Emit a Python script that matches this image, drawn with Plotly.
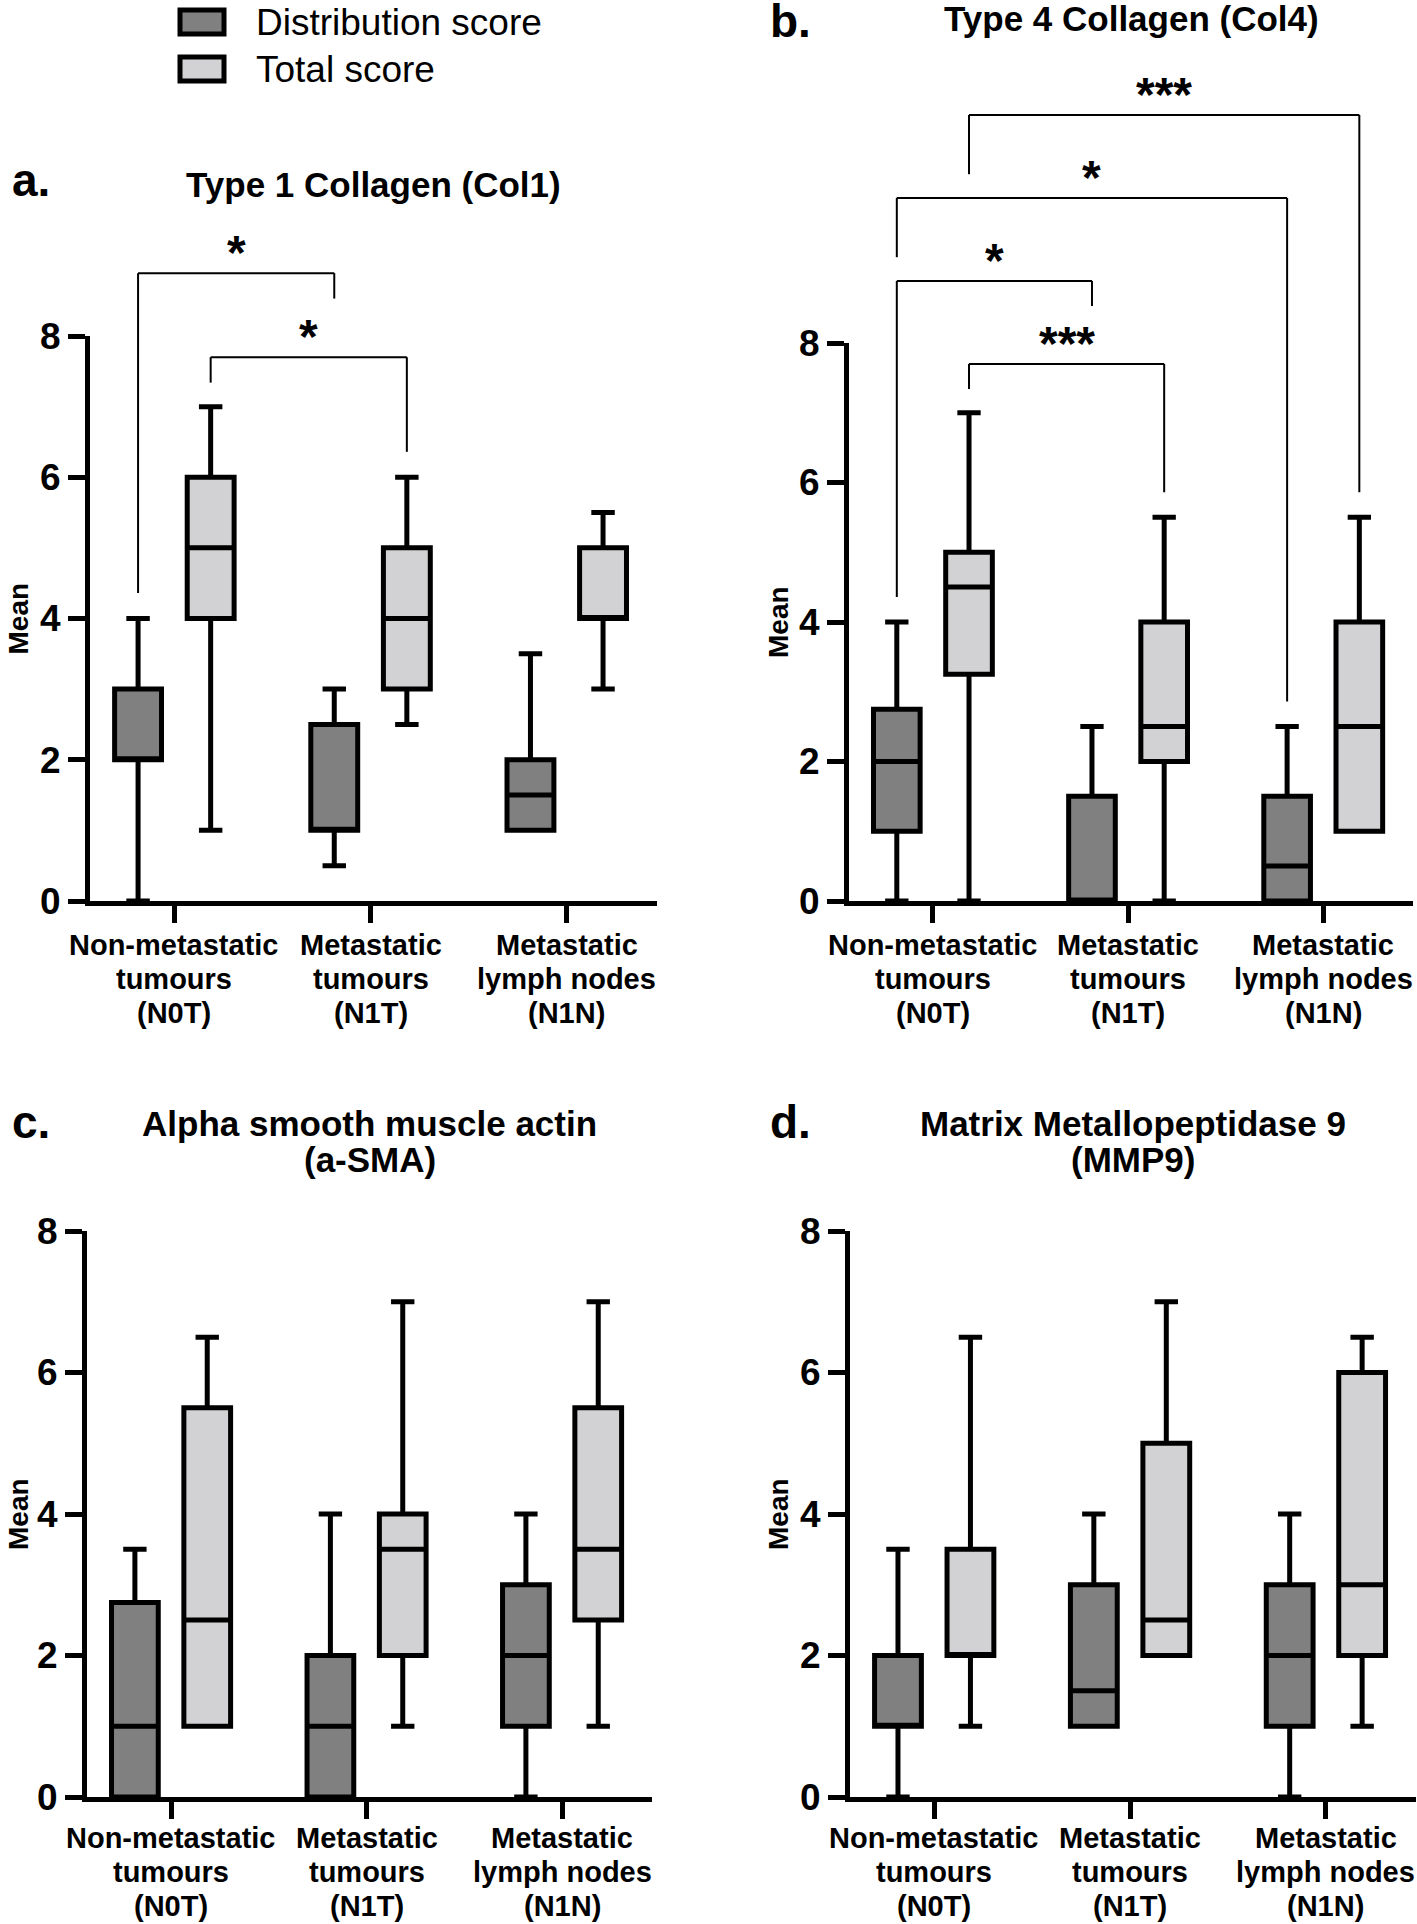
import plotly.graph_objects as go

W, H = 1417, 1924

# ---------------- data ----------------
categories = ["Non-metastatic<br>tumours<br>(N0T)",
              "Metastatic<br>tumours<br>(N1T)",
              "Metastatic<br>lymph nodes<br>(N1N)"]
series_names = ["Distribution score", "Total score"]
panel_letters = ["a.", "b.", "c.", "d."]
panel_titles = [["Type 1 Collagen (Col1)"],
                ["Type 4 Collagen (Col4)"],
                ["Alpha smooth muscle actin", "(a-SMA)"],
                ["Matrix Metallopeptidase 9", "(MMP9)"]]
y_ticks = [0, 2, 4, 6, 8]
y_label = "Mean"

# a. Type 1 Collagen
col1_dist_min = [0, 0.5, 1]
col1_dist_q1 = [2, 1, 1]
col1_dist_med = [2, 1, 1.5]
col1_dist_q3 = [3, 2.5, 2]
col1_dist_max = [4, 3, 3.5]
col1_total_min = [1, 2.5, 3]
col1_total_q1 = [4, 3, 4]
col1_total_med = [5, 4, 4]
col1_total_q3 = [6, 5, 5]
col1_total_max = [7, 6, 5.5]

# b. Type 4 Collagen
col4_dist_min = [0, 0, 0]
col4_dist_q1 = [1, 0, 0]
col4_dist_med = [2, 0, 0.5]
col4_dist_q3 = [2.75, 1.5, 1.5]
col4_dist_max = [4, 2.5, 2.5]
col4_total_min = [0, 0, 1]
col4_total_q1 = [3.25, 2, 1]
col4_total_med = [4.5, 2.5, 2.5]
col4_total_q3 = [5, 4, 4]
col4_total_max = [7, 5.5, 5.5]

# c. alpha-SMA
asma_dist_min = [0, 0, 0]
asma_dist_q1 = [0, 0, 1]
asma_dist_med = [1, 1, 2]
asma_dist_q3 = [2.75, 2, 3]
asma_dist_max = [3.5, 4, 4]
asma_total_min = [1, 1, 1]
asma_total_q1 = [1, 2, 2.5]
asma_total_med = [2.5, 3.5, 3.5]
asma_total_q3 = [5.5, 4, 5.5]
asma_total_max = [6.5, 7, 7]

# d. MMP9
mmp9_dist_min = [0, 1, 0]
mmp9_dist_q1 = [1, 1, 1]
mmp9_dist_med = [1, 1.5, 2]
mmp9_dist_q3 = [2, 3, 3]
mmp9_dist_max = [3.5, 4, 4]
mmp9_total_min = [1, 2, 1]
mmp9_total_q1 = [2, 2, 2]
mmp9_total_med = [2, 2.5, 3]
mmp9_total_q3 = [3.5, 5, 6]
mmp9_total_max = [6.5, 7, 6.5]

# significance comparisons: (group, series) vs (group, series), label
col1_comparisons = [((0, 0), (1, 0), "*"), ((0, 1), (1, 1), "*")]
col4_comparisons = [((0, 1), (2, 1), "***"), ((0, 0), (2, 0), "*"),
                    ((0, 0), (1, 0), "*"), ((0, 1), (1, 1), "***")]

# ---------------- layout / style ----------------
FONT = "Liberation Sans, Arial, sans-serif"
DARK = "#808080"
LIGHT = "#d2d2d4"
LW = 5
BOXGAP = 0.26
BOXGROUPGAP = 0.354
XRANGE = [-0.43, 2.46]
OFF = (1 - BOXGAP) / 4  # centre offset of each box within its group


def X(px):
    return px / W


def Y(py):
    return 1 - py / H


# bracket geometry (level, left-leg end, right-leg end) in data units
col1_brackets = [(8.89, 4.36, 8.53), (7.70, 7.34, 6.36)]
col4_brackets = [(11.27, 10.42, 5.86), (10.08, 9.23, 2.86),
                 (8.89, 4.36, 8.53), (7.70, 7.34, 5.86)]

panels = [
    dict(stats=[[col1_dist_min, col1_dist_q1, col1_dist_med, col1_dist_q3, col1_dist_max],
                [col1_total_min, col1_total_q1, col1_total_med, col1_total_q3, col1_total_max]],
         comps=col1_comparisons, brackets=col1_brackets,
         x0=90, x1=657, yb=901, yt=336, title_y=[184], letter_x=10, letter_y=180, mean_x=18,
         label_y=[945, 979, 1013]),
    dict(stats=[[col4_dist_min, col4_dist_q1, col4_dist_med, col4_dist_q3, col4_dist_max],
                [col4_total_min, col4_total_q1, col4_total_med, col4_total_q3, col4_total_max]],
         comps=col4_comparisons, brackets=col4_brackets,
         x0=849, x1=1413, yb=901, yt=343, title_y=[19], letter_x=768, letter_y=21, mean_x=778,
         label_y=[945, 979, 1013]),
    dict(stats=[[asma_dist_min, asma_dist_q1, asma_dist_med, asma_dist_q3, asma_dist_max],
                [asma_total_min, asma_total_q1, asma_total_med, asma_total_q3, asma_total_max]],
         comps=[], brackets=[],
         x0=87, x1=652, yb=1797, yt=1231, title_y=[1123, 1159], letter_x=10, letter_y=1122, mean_x=18,
         label_y=[1838, 1872, 1906]),
    dict(stats=[[mmp9_dist_min, mmp9_dist_q1, mmp9_dist_med, mmp9_dist_q3, mmp9_dist_max],
                [mmp9_total_min, mmp9_total_q1, mmp9_total_med, mmp9_total_q3, mmp9_total_max]],
         comps=[], brackets=[],
         x0=850, x1=1416, yb=1797, yt=1231, title_y=[1123, 1159], letter_x=768, letter_y=1122, mean_x=778,
         label_y=[1838, 1872, 1906]),
]

fig = go.Figure()
shapes = []
annotations = []
axes = {}

for p, pn in enumerate(panels):
    sx = "" if p == 0 else str(p + 1)
    xa, ya = "x" + sx, "y" + sx
    for s, (name, color) in enumerate(zip(series_names, [DARK, LIGHT])):
        lo, q1, med, q3, hi = pn["stats"][s]
        fig.add_trace(go.Box(
            x=categories, lowerfence=lo, q1=q1, median=med, q3=q3, upperfence=hi,
            name=name, offsetgroup=str(s), orientation="v",
            fillcolor=color, line=dict(color="black", width=LW),
            whiskerwidth=0.5, boxpoints=False, hoverinfo="skip",
            showlegend=False, xaxis=xa, yaxis=ya))

    axes["xaxis" + sx] = dict(
        domain=[X(pn["x0"]), X(pn["x1"])], anchor=ya, type="category",
        categoryorder="array", categoryarray=categories, range=XRANGE,
        showline=True, linewidth=LW, linecolor="black", automargin=False,
        ticks="outside", ticklen=17, tickwidth=LW, tickcolor="black",
        showticklabels=False, showgrid=False, zeroline=False, fixedrange=True)
    axes["yaxis" + sx] = dict(
        domain=[Y(pn["yb"]), Y(pn["yt"])], anchor=xa, range=[0, 8],
        tickmode="array", tickvals=y_ticks, automargin=False,
        showline=True, linewidth=LW, linecolor="black",
        ticks="outside", ticklen=17, tickwidth=LW, tickcolor="black",
        tickfont=dict(family=FONT, size=37, color="black", weight="bold"),
        showgrid=False, zeroline=False, fixedrange=True)

    # category labels (one text per line, tight line spacing as in the original)
    for gi, cat in enumerate(categories):
        for line, ly in zip(cat.split("<br>"), pn["label_y"]):
            annotations.append(dict(xref=xa, yref="paper", x=gi, y=Y(ly), text=line,
                                    showarrow=False, xanchor="center", yanchor="middle",
                                    font=dict(family=FONT, size=29, color="black", weight="bold")))

    # significance brackets
    for ((ga, sa), (gb, sb), label), (lvl, lend, rend) in zip(pn["comps"], pn["brackets"]):
        xl = ga + (2 * sa - 1) * OFF
        xr = gb + (2 * sb - 1) * OFF
        yr = ya + " domain"
        ln = dict(color="black", width=2)
        shapes.append(dict(type="line", xref=xa, yref=yr, x0=xl, x1=xl, y0=lend / 8, y1=lvl / 8, line=ln))
        shapes.append(dict(type="line", xref=xa, yref=yr, x0=xl, x1=xr, y0=lvl / 8, y1=lvl / 8, line=ln))
        shapes.append(dict(type="line", xref=xa, yref=yr, x0=xr, x1=xr, y0=rend / 8, y1=lvl / 8, line=ln))
        annotations.append(dict(xref=xa, yref=yr, x=(xl + xr) / 2, y=(lvl + 0.29) / 8,
                                text=label, showarrow=False, yanchor="middle",
                                font=dict(family=FONT, size=48, color="black", weight="bold")))

    # y-axis title
    annotations.append(dict(xref="paper", yref=ya + " domain", x=X(pn["mean_x"]), y=0.5,
                            text=y_label, textangle=-90, showarrow=False,
                            xanchor="center", yanchor="middle",
                            font=dict(family=FONT, size=28, color="black", weight="bold")))
    # panel title
    cx = (pn["x0"] + pn["x1"]) / 2
    for line, ty in zip(panel_titles[p], pn["title_y"]):
        annotations.append(dict(xref="paper", yref="paper", x=X(cx), y=Y(ty),
                                text=line, showarrow=False, xanchor="center", yanchor="middle",
                                font=dict(family=FONT, size=35, color="black", weight="bold")))
    # panel letter
    annotations.append(dict(xref="paper", yref="paper", x=X(pn["letter_x"]), y=Y(pn["letter_y"]),
                            text=panel_letters[p], showarrow=False, xanchor="left", yanchor="middle",
                            font=dict(family=FONT, size=46, color="black", weight="bold")))

# legend (drawn manually)
for i, (name, color) in enumerate(zip(series_names, [DARK, LIGHT])):
    cy = 22 + i * 47
    shapes.append(dict(type="rect", xref="paper", yref="paper",
                       x0=X(180), x1=X(224), y0=Y(cy + 12), y1=Y(cy - 12),
                       fillcolor=color, line=dict(color="black", width=LW)))
    annotations.append(dict(xref="paper", yref="paper", x=X(254), y=Y(cy),
                            text=name, showarrow=False, xanchor="left", yanchor="middle",
                            font=dict(family=FONT, size=37, color="black")))

fig.update_layout(
    width=W, height=H, margin=dict(l=0, r=0, t=0, b=0, autoexpand=False),
    plot_bgcolor="white", paper_bgcolor="white",
    boxmode="group", boxgap=BOXGAP, boxgroupgap=BOXGROUPGAP,
    shapes=shapes, annotations=annotations, showlegend=False,
    **axes)

fig.write_html("out.html", config={"displayModeBar": False, "staticPlot": True},
               post_script="document.body.style.margin='0px';")
